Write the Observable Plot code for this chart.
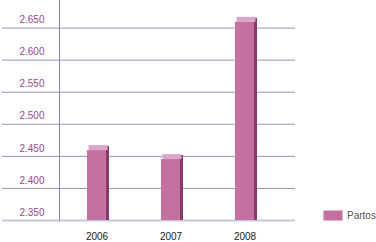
<!DOCTYPE html>
<html>
<head>
<meta charset="utf-8">
<script src="https://cdn.jsdelivr.net/npm/d3@7"></script>
<script src="https://cdn.jsdelivr.net/npm/@observablehq/plot@0.6"></script>
<style>
  html, body { margin: 0; padding: 0; background: #fff; }
  #wrap { position: relative; width: 376px; height: 242px; font-family: "Liberation Sans", Arial, sans-serif; }
  #legend { position: absolute; left: 323px; top: 210px; display: flex; align-items: center; font-size: 10px; color: #555; }
  #legend .sw { width: 18px; height: 9px; background: #c4719f; border: 1px solid #e2b6d0; margin-right: 4px; }
</style>
</head>
<body>
<div id="wrap"></div>
<script>
const years = ["2006", "2007", "2008"];
const partos = [2459, 2445, 2659];
const yTicks = [2350, 2400, 2450, 2500, 2550, 2600, 2650];
const seriesName = "Partos";

const data = years.map((y, i) => ({year: y, value: partos[i]}));
const base = 2350;
const fmt = d3.formatLocale({decimal: ",", thousands: ".", grouping: [3], currency: ["", ""]}).format(",");

const frontColor = "#c4719f", sideColor = "#8a3a6a", topColor = "#dca6c8";
const bw = 18.7;

const chart = Plot.plot({
  width: 376,
  height: 242,
  marginLeft: 59,
  marginRight: 81,
  marginTop: 0,
  marginBottom: 22,
  style: {fontFamily: "'Liberation Sans', Arial, sans-serif", fontSize: "10px", background: "transparent"},
  x: {type: "band", domain: years, paddingInner: 0.75, paddingOuter: 0, insetLeft: 27.7, insetRight: 40.3, axis: null},
  y: {domain: [base, 2693], axis: null},
  marks: [
    Plot.ruleY(yTicks.filter(d => d !== base), {y: d => d, stroke: "#9494bc", strokeWidth: 1, insetLeft: -57}),
    Plot.ruleY([base], {y: d => d, stroke: "#c6c6de", strokeWidth: 2, insetLeft: -57}),
    Plot.frame({anchor: "left", stroke: "#8585ad"}),
    Plot.barY(data, {x: "year", y1: base, y2: "value", fill: sideColor, insetLeft: bw - 3, dx: 3, insetTop: -4}),
    Plot.barY(data, {x: "year", y1: "value", y2: "value", fill: topColor, insetTop: -5, insetLeft: 1.5, insetRight: -1.5}),
    Plot.barY(data, {x: "year", y1: base, y2: "value", fill: frontColor}),
    Plot.axisY({ticks: yTicks, tickFormat: fmt, tickSize: 0, tickPadding: 15, dy: -8, color: "#9b478c", fontSize: 10, label: null}),
    Plot.axisX({tickSize: 0, tickPadding: 12, color: "#222", fontSize: 10, label: null})
  ]
});

const wrap = document.getElementById("wrap");
wrap.appendChild(chart);
const lg = document.createElement("div");
lg.id = "legend";
lg.innerHTML = '<div class="sw"></div><span></span>';
lg.querySelector("span").textContent = seriesName;
wrap.appendChild(lg);
</script>
</body>
</html>
